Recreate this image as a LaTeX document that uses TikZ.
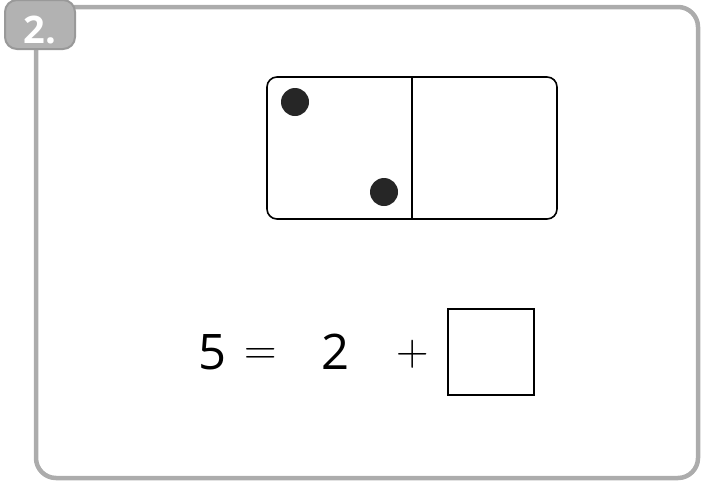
\documentclass[tikz,border=0pt]{standalone}
\usepackage{fontspec}
\setmainfont{Open Sans}
\newfontfamily\lmrfont{Latin Modern Roman}
\begin{document}
\begin{tikzpicture}[x=1pt,y=-1pt,
  frame/.style={draw=gray!65,line width=4.5pt,rounded corners=20pt},
  badge/.style={draw=gray!80,fill=gray!60,line width=2pt,rounded corners=12pt},
  domino/.style={draw=black,line width=1.6pt,rounded corners=10pt},
  pip/.style={fill=black!85,draw=none},
  eq/.style={inner sep=0pt,anchor=base,font=\fontsize{49}{52}\selectfont},
  op/.style={inner sep=0pt,anchor=base,font=\lmrfont\fontsize{45}{48}\selectfont},
  ansbox/.style={draw=black,line width=1.4pt}]
\useasboundingbox (0,0) rectangle (711,482);
% frame
\draw[frame] (36,7) rectangle (698,478);
% badge
\path[badge] (5,0) rectangle (75,49);
\node[inner sep=0pt,anchor=base,text=white,font=\bfseries\fontsize{38}{40}\selectfont] (num) at (40,43) {2.};
% domino
\draw[domino] (267,77) rectangle (557,219);
\coordinate (dt) at (412,77);
\coordinate (db) at (412,219);
\draw[line width=1.6pt] (dt) -- (db);
\fill[pip] (295,102) circle (14);
\fill[pip] (384,192) circle (14);
% equation
\node[eq] (five) at (213,369) {5};
\node[op] (eqs) at (261,364.5) {=};
\node[eq] (two) at (336,369) {2};
\node[op] (plus) at (413,365) {+};
\draw[ansbox] (448,309) rectangle (534,395);
\end{tikzpicture}
\end{document}
